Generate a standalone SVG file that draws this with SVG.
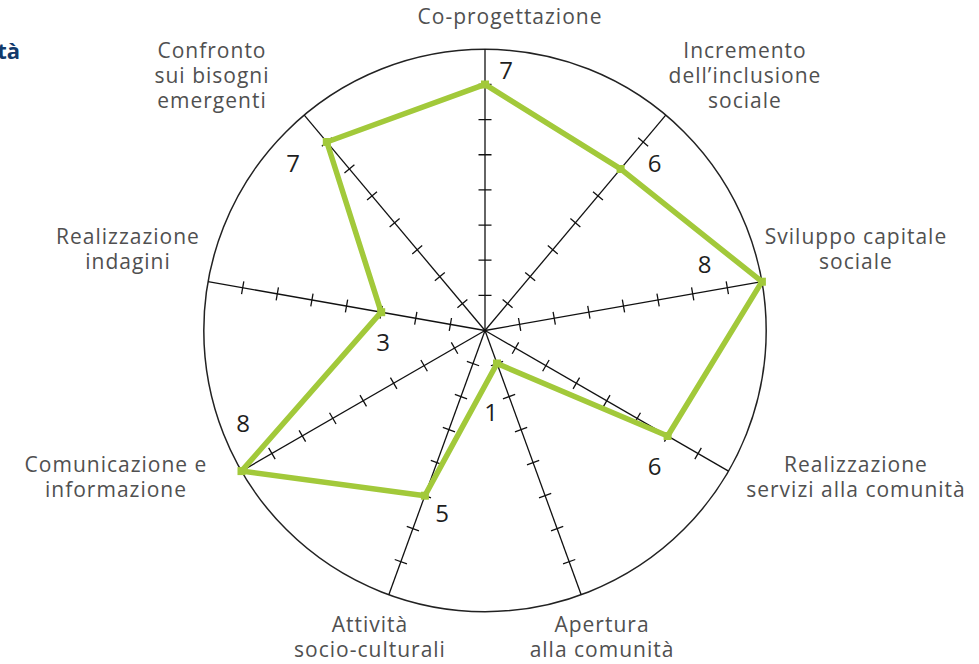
<svg xmlns="http://www.w3.org/2000/svg" xmlns:xlink="http://www.w3.org/1999/xlink" width="979" height="664" viewBox="0 0 979 664">
  <style>
    .lbl { font-family: "Open Sans", "Noto Sans", "Liberation Sans", sans-serif; font-size: 21px; letter-spacing: 1px; fill: #505050; text-anchor: middle; }
    .val { font-family: "Open Sans", "Noto Sans", "Liberation Sans", sans-serif; font-size: 24px; fill: #1e1e1e; text-anchor: middle; }
    .axis { stroke: #111; stroke-width: 1.3; fill: none; }
    .ring { stroke: #222; stroke-width: 1.5; fill: none; }
    .series { stroke: #a2c93a; stroke-width: 5.5; fill: none; stroke-linejoin: round; }
    .dot { fill: #a2c93a; }
    .title { font-family: "Open Sans", "Noto Sans", "Liberation Sans", sans-serif; font-size: 22px; font-weight: bold; fill: #123a6b; text-anchor: end; }
  </style>
  <defs>
    <!-- one spoke of the radar: axis line plus ticks at 1..7 (unit 35.15px) -->
    <g id="spoke">
      <line class="axis" x1="0" y1="0" x2="0" y2="-281.2"/>
      <path class="axis" d="M-6.5,-35.15H6.5M-6.5,-70.3H6.5M-6.5,-105.45H6.5M-6.5,-140.6H6.5M-6.5,-175.75H6.5M-6.5,-210.9H6.5M-6.5,-246.05H6.5"/>
    </g>
  </defs>

  <rect width="979" height="664" fill="#fff"/>

  <text class="title" x="20" y="59">ità</text>

  <!-- grid: outer ring and nine spokes, 40° apart -->
  <g id="grid" transform="translate(485,330.5)">
    <circle class="ring" cx="0" cy="0" r="281.2"/>
    <use xlink:href="#spoke" href="#spoke"/>
    <use xlink:href="#spoke" href="#spoke" transform="rotate(40)"/>
    <use xlink:href="#spoke" href="#spoke" transform="rotate(80)"/>
    <use xlink:href="#spoke" href="#spoke" transform="rotate(120)"/>
    <use xlink:href="#spoke" href="#spoke" transform="rotate(160)"/>
    <use xlink:href="#spoke" href="#spoke" transform="rotate(200)"/>
    <use xlink:href="#spoke" href="#spoke" transform="rotate(240)"/>
    <use xlink:href="#spoke" href="#spoke" transform="rotate(280)"/>
    <use xlink:href="#spoke" href="#spoke" transform="rotate(320)"/>
  </g>

  <!-- data series -->
  <g id="connectors">
    <polygon class="series" points="485,84.45 620.57,168.95 761.93,281.68 667.64,435.95 497.02,363.53 424.89,495.65 241.48,471.1 381.15,312.19 326.84,142.02"/>
  </g>

  <g id="points">
    <rect class="dot" x="481" y="80.5" width="8" height="8"/>
    <rect class="dot" x="616.6" y="165" width="8" height="8"/>
    <rect class="dot" x="757.9" y="277.7" width="8" height="8"/>
    <rect class="dot" x="663.6" y="432" width="8" height="8"/>
    <rect class="dot" x="493" y="359.5" width="8" height="8"/>
    <rect class="dot" x="420.9" y="491.7" width="8" height="8"/>
    <rect class="dot" x="237.5" y="467.1" width="8" height="8"/>
    <rect class="dot" x="377.2" y="308.2" width="8" height="8"/>
    <rect class="dot" x="322.8" y="138" width="8" height="8"/>
  </g>

  <!-- value labels -->
  <g id="values">
    <text class="val" x="506" y="79">7</text>
    <text class="val" x="654.5" y="172">6</text>
    <text class="val" x="704.5" y="273">8</text>
    <text class="val" x="654.5" y="475">6</text>
    <text class="val" x="491" y="421">1</text>
    <text class="val" x="442" y="522">5</text>
    <text class="val" x="243" y="432">8</text>
    <text class="val" x="383" y="351">3</text>
    <text class="val" x="293" y="172">7</text>
  </g>

  <!-- category labels -->
  <g id="node-coprogettazione"><text class="lbl" x="510" y="24">Co-progettazione</text></g>
  <g id="node-incremento">
    <text class="lbl" x="745" y="58">Incremento</text>
    <text class="lbl" x="745" y="83">dell’inclusione</text>
    <text class="lbl" x="745" y="108">sociale</text>
  </g>
  <g id="node-sviluppo">
    <text class="lbl" x="856" y="244">Sviluppo capitale</text>
    <text class="lbl" x="856" y="269">sociale</text>
  </g>
  <g id="node-servizi">
    <text class="lbl" x="856" y="472">Realizzazione</text>
    <text class="lbl" x="856" y="497">servizi alla comunità</text>
  </g>
  <g id="node-apertura">
    <text class="lbl" x="602" y="632">Apertura</text>
    <text class="lbl" x="602" y="657">alla comunità</text>
  </g>
  <g id="node-attivita">
    <text class="lbl" x="370" y="632">Attività</text>
    <text class="lbl" x="370" y="657">socio-culturali</text>
  </g>
  <g id="node-comunicazione">
    <text class="lbl" x="116" y="472">Comunicazione e</text>
    <text class="lbl" x="116" y="497">informazione</text>
  </g>
  <g id="node-indagini">
    <text class="lbl" x="128" y="244">Realizzazione</text>
    <text class="lbl" x="128" y="269">indagini</text>
  </g>
  <g id="node-confronto">
    <text class="lbl" x="212" y="58">Confronto</text>
    <text class="lbl" x="212" y="83">sui bisogni</text>
    <text class="lbl" x="212" y="108">emergenti</text>
  </g>
</svg>
